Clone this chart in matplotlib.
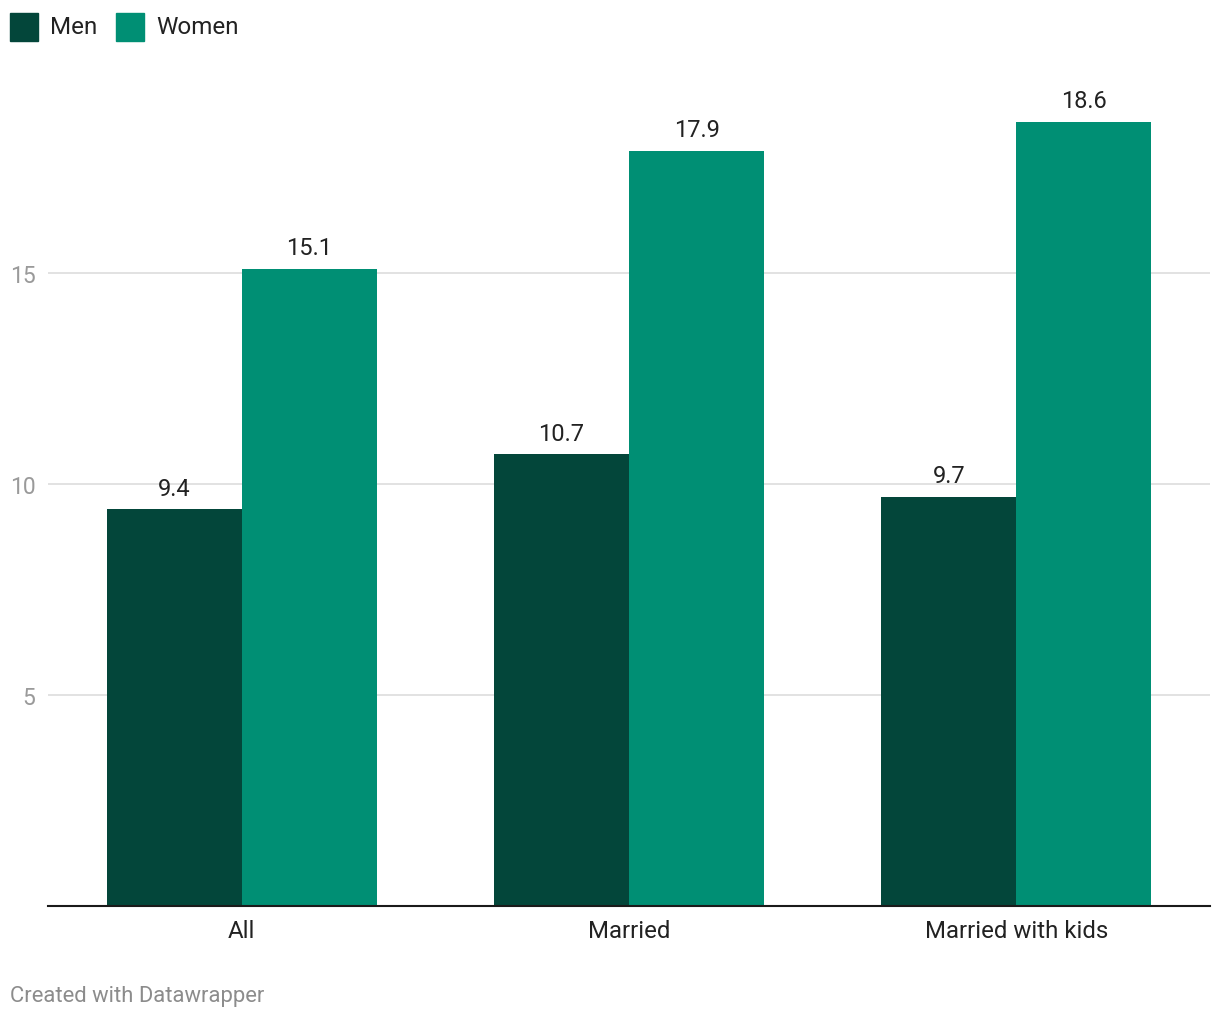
import matplotlib.pyplot as plt
import numpy as np
from matplotlib.patches import Rectangle

plt.rcParams['font.family'] = ['Roboto', 'DejaVu Sans']

# data
categories = ['All', 'Married', 'Married with kids']
men = [9.4, 10.7, 9.7]
women = [15.1, 17.9, 18.6]
yticks = [5, 10, 15]

c_men = '#03463a'
c_women = '#008f74'

W, H = 1220, 1020
fig = plt.figure(figsize=(W / 100, H / 100), dpi=100)
ax = fig.add_axes([48 / W, (H - 906.5) / H, 1162 / W, 843 / H])

x = np.arange(len(categories))
bw = 135 / 387
b1 = ax.bar(x - bw / 2, men, bw, color=c_men, zorder=3)
b2 = ax.bar(x + bw / 2, women, bw, color=c_women, zorder=3)

for bars, vals in [(b1, men), (b2, women)]:
    for b, v in zip(bars, vals):
        ax.annotate(f'{v:.1f}', xy=(b.get_x() + b.get_width() / 2, v),
                    xytext=(0, 7), textcoords='offset points',
                    ha='center', va='bottom', fontsize=17, color='#222222')

ax.set_xlim(-0.5, 2.5)
ax.set_ylim(0, 20)
ax.set_yticks(yticks)
ax.set_yticklabels([str(t) for t in yticks])
ax.set_xticks(x)
ax.set_xticklabels(categories)
ax.grid(axis='y', color='#e2e2e2', linewidth=1.4, zorder=0)
ax.tick_params(axis='y', length=0, pad=9, labelsize=16.5, labelcolor='#9a9a9a')
ax.tick_params(axis='x', length=0, pad=10, labelsize=17.3, labelcolor='#222222')
for s in ['top', 'right', 'left']:
    ax.spines[s].set_visible(False)
ax.spines['bottom'].set_color('#1a1a1a')
ax.spines['bottom'].set_linewidth(1.5)
ax.spines['bottom'].set_zorder(4)

# legend
for x0, col, lab in [(10, c_men, 'Men'), (116, c_women, 'Women')]:
    fig.add_artist(Rectangle((x0 / W, (H - 42) / H), 28 / W, 28 / H,
                             transform=fig.transFigure, color=col))
    fig.text((x0 + 40) / W, (H - 27) / H, lab, fontsize=17.4,
             color='#222222', va='center', ha='left')

fig.text(10 / W, (H - 997) / H, 'Created with Datawrapper', fontsize=15.8,
         color='#8c8c8c', va='center', ha='left')

fig.savefig('out.png', dpi=100)
